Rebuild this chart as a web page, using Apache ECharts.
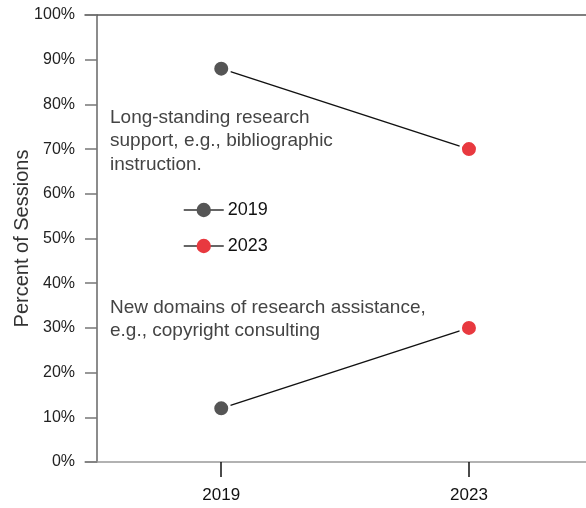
<!DOCTYPE html>
<html><head><meta charset="utf-8">
<script src="https://cdn.jsdelivr.net/npm/echarts@6/dist/echarts.min.js"></script>
<style>html,body{margin:0;padding:0;background:#fff}#c{width:586px;height:508px}</style>
</head><body><div id="c"></div>
<script>
const years = [2019, 2023];
const categories = ['Long-standing research support, e.g., bibliographic instruction.', 'New domains of research assistance, e.g., copyright consulting'];
const values2019 = [88, 12];
const values2023 = [70, 30];
const yTicks = [0, 10, 20, 30, 40, 50, 60, 70, 80, 90, 100];

const chart = echarts.init(document.getElementById('c'));
const font = 'Liberation Sans, Arial, sans-serif';
const connectors = categories.map((c, i) => ({
  type: 'line', name: c, silent: true, symbol: 'none', z: 1,
  lineStyle: {color: '#111', width: 1.5},
  data: [[years[0], values2019[i]], [years[1], values2023[i]]]
}));
function pointSeries(name, vals, x, color) {
  return {
    type: 'line', name: name, z: 5,
    symbol: 'circle', symbolSize: 17,
    itemStyle: {color: color, borderColor: '#fff', borderWidth: 3},
    lineStyle: {opacity: 0, width: 0},
    data: vals.map(v => [x, v])
  };
}
chart.setOption({
  animation: false,
  grid: {left: 85, right: 0, top: 15, bottom: 46, outerBoundsMode: 'none', containLabel: false},
  legend: {
    data: ['2019', '2023'], orient: 'vertical', left: 183, top: 201, padding: 0,
    itemWidth: 40, itemHeight: 18, itemGap: 18,
    textStyle: {fontFamily: font, fontSize: 18, color: '#111', padding: [0,0,0,-1]},
    lineStyle: {color: '#333', width: 1.5, opacity: 1},
    itemStyle: {borderWidth: 0}
  },
  xAxis: [{
    type: 'value', min: 2016.8, max: 2024.89, position: 'bottom',
    splitLine: {show: false},
    axisLine: {show: true, lineStyle: {color: '#999', width: 1.5}},
    axisTick: {show: true, length: 15, customValues: years, lineStyle: {color: '#111', width: 1.5}},
    axisLabel: {customValues: years, margin: 25, fontFamily: font, fontSize: 17, color: '#111', formatter: v => String(v)}
  }, {
    type: 'value', min: 2016.8, max: 2024.89, position: 'top',
    splitLine: {show: false},
    axisLine: {show: true, lineStyle: {color: '#555', width: 1.5}},
    axisTick: {show: false}, axisLabel: {show: false}
  }],
  yAxis: {
    type: 'value', min: 0, max: 100, interval: 10, offset: -12,
    name: 'Percent of Sessions', nameLocation: 'middle', nameGap: 65, nameMoveOverlap: false,
    nameTextStyle: {fontFamily: font, fontSize: 20, color: '#333'},
    splitLine: {show: false},
    axisLine: {show: true, lineStyle: {color: '#666', width: 1.5}},
    axisTick: {show: true, length: 12, lineStyle: {color: '#777', width: 1.5}},
    axisLabel: {margin: 22, fontFamily: font, fontSize: 16, color: '#222', formatter: v => yTicks.includes(v) ? v + '%' : ''}
  },
  graphic: [
    {type: 'text', left: 110, top: 106, style: {text: 'Long-standing research\nsupport, e.g., bibliographic\ninstruction.', font: '19px ' + font, fill: '#444', lineHeight: 23.5}},
    {type: 'text', left: 110, top: 296, style: {text: 'New domains of research assistance,\ne.g., copyright consulting', font: '19px ' + font, fill: '#444', lineHeight: 23.5}}
  ],
  series: [
    ...connectors,
    pointSeries('2019', values2019, years[0], '#555555'),
    pointSeries('2023', values2023, years[1], '#e8393f')
  ]
});
</script></body></html>
